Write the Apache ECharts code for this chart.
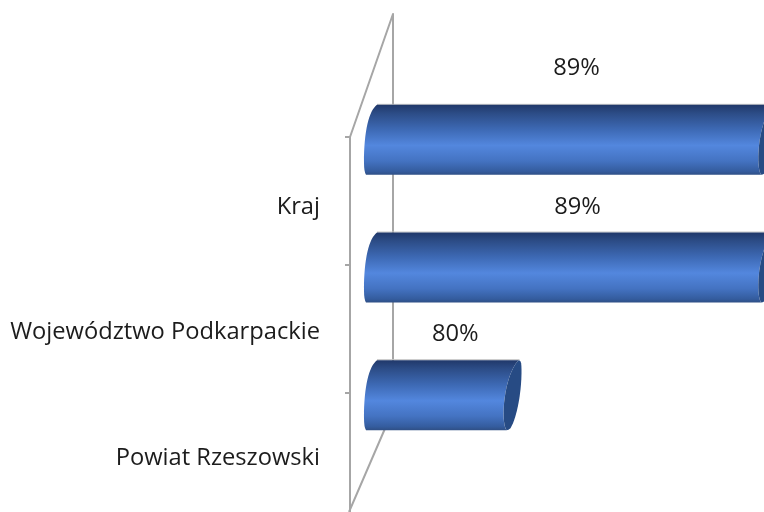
<!DOCTYPE html>
<html>
<head>
<meta charset="utf-8">
<style>html,body{margin:0;padding:0;background:#fff}#c{width:764px;height:512px}</style>
<script src="https://cdn.jsdelivr.net/npm/echarts@6/dist/echarts.min.js"></script>
</head>
<body>
<div id="c"></div>
<script>
const categories = ['Kraj', 'Województwo Podkarpackie', 'Powiat Rzeszowski'];
const values = [89, 89, 80];
const valueLabels = ['89%', '89%', '80%'];
const wall = '#a6a6a6';
const fontName = 'Open Sans';
const fontPx = 23.7;
const chart = echarts.init(document.getElementById('c'), null, {renderer: 'canvas'});
const faceGrad = () => new echarts.graphic.LinearGradient(0, 0, 0, 1, [
  {offset: 0, color: '#20386a'},
  {offset: 0.12, color: '#2c4c86'},
  {offset: 0.35, color: '#3d69b4'},
  {offset: 0.58, color: '#5387de'},
  {offset: 0.8, color: '#4473c2'},
  {offset: 0.95, color: '#345c9e'},
  {offset: 1, color: '#2f4f85'}
]);
function renderBar(params, api) {
  const i = params.dataIndex;
  const end = api.coord([api.value(0), api.value(1)]);
  const start = api.coord([75, api.value(1)]);
  const cy = end[1] - 61, t = cy - 35, b = cy + 35;
  const L = start[0] + 14, R = end[0] + 15;
  const inner = `C${R-6} ${b-8} ${R-3} ${t+16} ${R+12} ${t}`;
  const face = `M${L+13} ${t} C${L+5} ${t+6} ${L} ${t+26} ${L} ${t+58} Q${L} ${b-3} ${L+2} ${b} ` +
    `L${R} ${b} ${inner} Z`;
  const cap = `M${R+12} ${t} C${R+15} ${t} ${R+15} ${t+4} ${R+15} ${t+12} C${R+15} ${t+30} ${R+11} ${b-14} ${R+4} ${b-2} Q${R+2} ${b} ${R} ${b} ` +
    `${inner} Z`;
  return {
    type: 'group',
    children: [
      {type: 'line', shape: {x1: L + 13, y1: t - 0.5, x2: R + 13, y2: t - 0.5}, style: {stroke: '#c4c4c4', lineWidth: 1}},
      {type: 'path', shape: {pathData: face}, style: {fill: faceGrad()}},
      {type: 'path', shape: {pathData: cap}, style: {fill: '#274b84'}},
      {type: 'text', style: {
        text: valueLabels[i],
        x: (L + R) / 2 + (i === 2 ? 20 : 15) - (i === 0 ? 1 : 0),
        y: t - (i === 0 ? 37 : 25.5),
        align: 'center', verticalAlign: 'middle',
        fill: '#1c1c1c', font: `${fontPx}px "${fontName}"`
      }}
    ]
  };
}
const labelStyle = pad => ({fontFamily: fontName, fontSize: fontPx, color: '#1c1c1c', padding: [pad, 0, 0, 0]});
chart.setOption({
  animation: false,
  backgroundColor: '#fff',
  grid: {left: 350, top: 137, width: 396.2, height: 383, containLabel: false, outerBoundsMode: 'none'},
  xAxis: {type: 'value', min: 75, max: 89, show: false},
  yAxis: {
    type: 'category', inverse: true, data: categories,
    axisLine: {lineStyle: {color: wall, width: 2}},
    axisTick: {show: true, length: 5, alignWithLabel: false, lineStyle: {color: wall, width: 2}},
    axisLabel: {
      margin: 30, color: '#1c1c1c', fontFamily: fontName, fontSize: fontPx, align: 'right',
      formatter: (v, i) => `{l${i}|${v}}`,
      rich: {l0: labelStyle(12), l1: labelStyle(8), l2: labelStyle(4)}
    },
    splitLine: {show: false}
  },
  graphic: [
    {type: 'polyline', z: 0, silent: true,
     shape: {points: [[350, 137], [393, 14], [393, 410], [349, 512]]},
     style: {fill: null, stroke: wall, lineWidth: 2, lineJoin: 'round'}}
  ],
  series: [{
    type: 'custom', z: 5, clip: false,
    renderItem: renderBar,
    encode: {x: 0, y: 1},
    data: categories.map((c, i) => [values[i], c])
  }]
});
</script>
</body>
</html>
